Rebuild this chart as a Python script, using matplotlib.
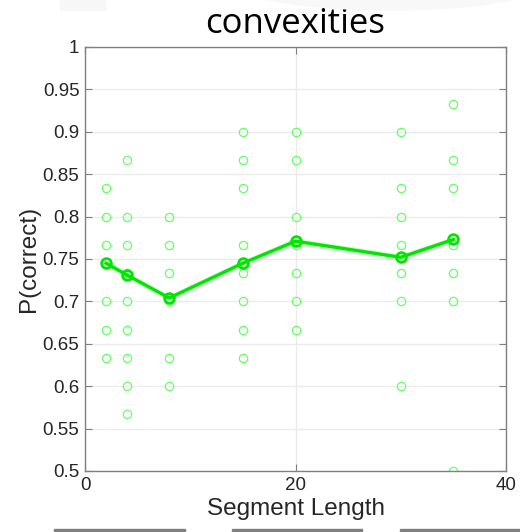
import numpy as np
import matplotlib
matplotlib.use('Agg')
import matplotlib.pyplot as plt
from matplotlib.patches import Rectangle, Ellipse

# segment lengths tested
seg_len = [2, 4, 8, 15, 20, 30, 35]

# per-subject P(correct) at each segment length (unique values shown)
subj_2 = [0.8333, 0.8, 0.7667, 0.7, 0.6667, 0.6333]
subj_4 = [0.8667, 0.8, 0.7667, 0.7333, 0.7, 0.6667, 0.6333, 0.6, 0.5667]
subj_8 = [0.8, 0.7667, 0.7333, 0.7, 0.6333, 0.6]
subj_15 = [0.9, 0.8667, 0.8333, 0.7667, 0.7333, 0.7, 0.6667, 0.6333]
subj_20 = [0.9, 0.8667, 0.8, 0.7667, 0.7333, 0.7, 0.6667]
subj_30 = [0.9, 0.8333, 0.8, 0.7667, 0.7333, 0.7, 0.6]
subj_35 = [0.9333, 0.8667, 0.8333, 0.7667, 0.7333, 0.7, 0.5]
subjects = [subj_2, subj_4, subj_8, subj_15, subj_20, subj_30, subj_35]

# group mean and its standard error
mean_pc = [0.745, 0.731, 0.704, 0.745, 0.771, 0.752, 0.773]
sem_pc = [0.004, 0.004, 0.004, 0.004, 0.004, 0.004, 0.004]

green = '#00e600'
light = '#66ff66'
axcol = '#808080'

plt.rcParams['font.family'] = ['Liberation Sans', 'DejaVu Sans']
fig = plt.figure(figsize=(5.2, 5.32), dpi=100)
ax = fig.add_axes([0.1635, 0.1147, 0.8096, 0.797])

for x, vals in zip(seg_len, subjects):
    ax.plot([x] * len(vals), vals, 'o', ms=6, mfc='none', mec=light, mew=0.9,
            zorder=2)

m = np.array(mean_pc)
s = np.array(sem_pc)
ax.fill_between(seg_len, m - s, m + s, color=green, alpha=0.15, lw=0, zorder=3)
ax.plot(seg_len, mean_pc, '-o', color=green, lw=2.4, ms=7, mfc='none',
        mec=green, mew=2, zorder=4)

ax.set_xlim(0, 40)
ax.set_ylim(0.5, 1)
ax.set_xticks([0, 20, 40])
ax.set_yticks(np.arange(0.5, 1.001, 0.05))
ax.set_yticklabels(['0.5', '0.55', '0.6', '0.65', '0.7', '0.75', '0.8',
                    '0.85', '0.9', '0.95', '1'])
ax.grid(True, color='#ebebeb', lw=1)
ax.set_axisbelow(True)
for sp in ax.spines.values():
    sp.set_color(axcol)
    sp.set_linewidth(1)
ax.tick_params(direction='in', length=5, color=axcol, labelsize=13.5,
               labelcolor='#262626', top=True, right=True, pad=4)
ax.set_xlabel('Segment Length', fontsize=17.5, color='#262626', labelpad=3)
ax.set_ylabel('P(correct)', fontsize=17.5, color='#262626', labelpad=2)
ax.set_title('convexities', fontsize=25, family=['Open Sans', 'DejaVu Sans'],
             color='black', pad=10)

# slide remnants along the top and bottom edges
fig.patches.append(Rectangle((60 / 520, 522 / 532), 45 / 520, 10 / 532,
                             transform=fig.transFigure, color='#f7f7f7',
                             zorder=0))
fig.patches.append(Ellipse((390 / 520, 560 / 532), 360 / 520, 76 / 532,
                           transform=fig.transFigure, color='#f8f8f8',
                           zorder=0))
for x0, w in [(54, 131), (232, 130), (400, 120)]:
    fig.patches.append(Rectangle((x0 / 520, 0), w / 520, 3 / 532,
                                 transform=fig.transFigure, color='#7f7f7f'))

fig.savefig('out.png', dpi=100)
